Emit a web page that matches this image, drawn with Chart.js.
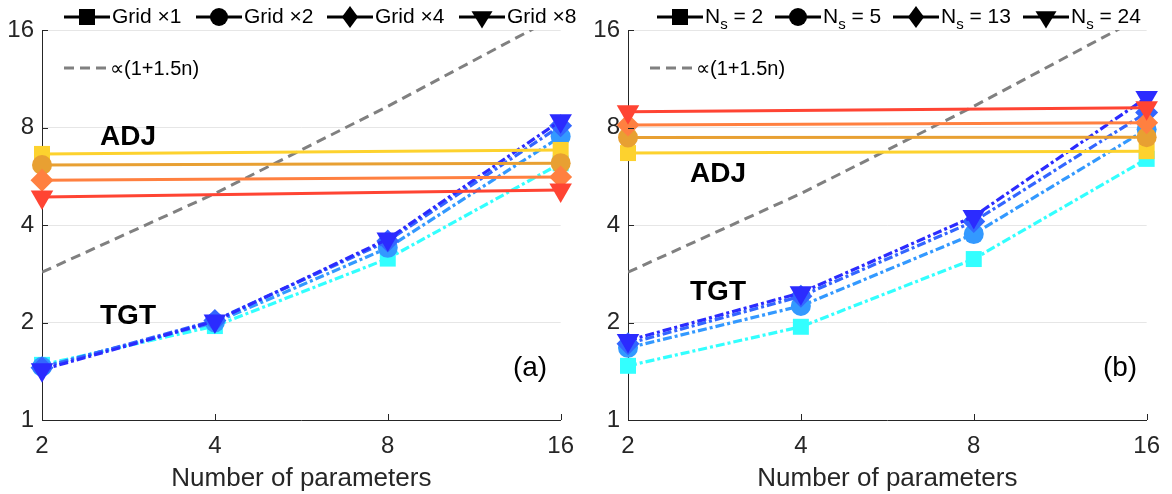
<!DOCTYPE html>
<html>
<head>
<meta charset="utf-8">
<script src="https://cdn.jsdelivr.net/npm/chart.js@4.4.0/dist/chart.umd.min.js"></script>
<style>
  html, body { margin: 0; padding: 0; background: #fff; }
  .panel { position: absolute; top: 0; width: 586px; height: 494px; }
</style>
</head>
<body>
<div class="panel" style="left:0"><canvas id="chartA" width="586" height="494"></canvas></div>
<div class="panel" style="left:586px"><canvas id="chartB" width="586" height="494"></canvas></div>
<script>
// x positions (number of parameters) and ticks
const params = [2, 4, 8, 16];
const adjParams = [2, 16];
const xTicks = [2, 4, 8, 16];
const yTicks = [1, 2, 4, 8, 16];

// reference curve  ∝(1+1.5n)
const refLine = [2.86, 5.0, 9.3, 17.9];

// panel (a): grid refinement
const labelsA = ['Grid \u00d71', 'Grid \u00d72', 'Grid \u00d74', 'Grid \u00d78'];
const tgtA1 = [1.48, 1.95, 3.15, 6.2];
const tgtA2 = [1.46, 2.0, 3.4, 7.5];
const tgtA4 = [1.45, 2.03, 3.57, 8.1];
const tgtA8 = [1.43, 2.02, 3.62, 8.4];
const adjA1 = [6.63, 6.82];
const adjA2 = [6.13, 6.21];
const adjA4 = [5.5, 5.63];
const adjA8 = [4.88, 5.13];

// panel (b): number of samples
const labelsB = ['2', '5', '13', '24'];
const tgtB2 = [1.47, 1.94, 3.14, 6.4];
const tgtB5 = [1.67, 2.25, 3.75, 7.9];
const tgtB13 = [1.72, 2.41, 4.1, 8.9];
const tgtB24 = [1.76, 2.47, 4.25, 9.9];
const adjB2 = [6.67, 6.76];
const adjB5 = [7.45, 7.47];
const adjB13 = [8.15, 8.27];
const adjB24 = [8.95, 9.2];

const tgtColors = ['#33FFFF', '#3399FF', '#3366FF', '#2B2BFF'];
const adjColors = ['#FDD22E', '#E8A032', '#FF8040', '#FF4433'];
const markers = [
  { style: 'rect', r: 11.3, rot: 0 },
  { style: 'circle', r: 10, rot: 0 },
  { style: 'rectRot', r: 11.5, rot: 0 },
  { style: 'triangle', r: 13, rot: 180 }
];

const SANS = "'Liberation Sans', Arial, sans-serif";
const AXIS = '#262626';

function buildDatasets(tgt, adj) {
  const ds = [{
    data: params.map((x, i) => ({ x: x, y: refLine[i] })),
    borderColor: '#808080', borderWidth: 3, borderDash: [10, 6],
    pointRadius: 0, order: 30
  }];
  tgt.forEach((vals, k) => ds.push({
    data: params.map((x, i) => ({ x: x, y: vals[i] })),
    borderColor: tgtColors[k], backgroundColor: tgtColors[k],
    borderWidth: 3.2, borderDash: [9, 3, 3, 3],
    pointStyle: markers[k].style, pointRadius: markers[k].r, pointRotation: markers[k].rot,
    pointBorderWidth: 0, clip: false, order: 20 - k
  }));
  adj.forEach((vals, k) => ds.push({
    data: adjParams.map((x, i) => ({ x: x, y: vals[i] })),
    borderColor: adjColors[k], backgroundColor: adjColors[k],
    borderWidth: 3,
    pointStyle: markers[k].style, pointRadius: markers[k].r, pointRotation: markers[k].rot,
    pointBorderWidth: 0, clip: false, order: 10 - k
  }));
  return ds;
}

function drawMarker(ctx, style, x, y, r) {
  ctx.beginPath();
  if (style === 'rect') {
    ctx.rect(x - r, y - r, 2 * r, 2 * r);
  } else if (style === 'circle') {
    ctx.arc(x, y, r, 0, Math.PI * 2);
  } else if (style === 'rectRot') {
    ctx.moveTo(x, y - r * 1.15); ctx.lineTo(x + r * 0.85, y);
    ctx.lineTo(x, y + r * 1.15); ctx.lineTo(x - r * 0.85, y);
    ctx.closePath();
  } else {
    ctx.moveTo(x - r, y - r * 0.55); ctx.lineTo(x + r, y - r * 0.55);
    ctx.lineTo(x, y + r * 1.1); ctx.closePath();
  }
  ctx.fill();
}

function overlay(opts) {
  return {
    id: 'overlay',
    afterDraw(chart) {
      const ctx = chart.ctx;
      const xs = chart.scales.x, ys = chart.scales.y;
      const area = chart.chartArea;
      ctx.save();
      // inward ticks
      ctx.strokeStyle = AXIS; ctx.lineWidth = 1;
      ctx.beginPath();
      yTicks.slice(1).forEach(v => {
        const py = Math.round(ys.getPixelForValue(v)) + 0.5;
        ctx.moveTo(area.left, py); ctx.lineTo(area.left + 6, py);
      });
      xTicks.slice(1).forEach(v => {
        const px = Math.round(xs.getPixelForValue(v)) + 0.5;
        ctx.moveTo(px, area.bottom); ctx.lineTo(px, area.bottom - 6);
      });
      ctx.stroke();

      // legend row
      ctx.textBaseline = 'middle';
      const ly = 17;
      opts.labels.forEach((lab, k) => {
        const mx = opts.legendX[k];
        ctx.strokeStyle = '#000'; ctx.lineWidth = 3; ctx.setLineDash([]);
        ctx.beginPath(); ctx.moveTo(mx - 23, ly); ctx.lineTo(mx + 23, ly); ctx.stroke();
        ctx.fillStyle = '#000';
        drawMarker(ctx, markers[k].style, mx, ly, [8, 9, 9.5, 10.5][k]);
        let cx = mx + 25;
        ctx.font = '21px ' + SANS;
        ctx.textAlign = 'left';
        if (opts.subscript) {
          ctx.fillText('N', cx, ly);
          cx += ctx.measureText('N').width;
          ctx.font = '15px ' + SANS;
          ctx.fillText('s', cx, ly + 8);
          cx += ctx.measureText('s').width;
          ctx.font = '21px ' + SANS;
          ctx.fillText(' = ' + lab, cx, ly);
        } else {
          ctx.fillText(lab, cx, ly);
        }
      });

      // reference-curve legend entry
      ctx.strokeStyle = '#808080'; ctx.lineWidth = 3; ctx.setLineDash([10, 6]);
      ctx.beginPath(); ctx.moveTo(64, 68); ctx.lineTo(108, 68); ctx.stroke();
      ctx.setLineDash([]);
      ctx.fillStyle = '#000';
      ctx.font = '20px ' + SANS;
      ctx.fillText('\u221d(1+1.5n)', 110, 69);

      // annotations
      ctx.font = 'bold 28px ' + SANS;
      ctx.fillText('ADJ', opts.adj[0], opts.adj[1]);
      ctx.fillText('TGT', opts.tgt[0], opts.tgt[1]);
      ctx.font = '28px ' + SANS;
      ctx.textAlign = 'center';
      ctx.fillText(opts.tag, opts.tagPos[0], opts.tagPos[1]);
      ctx.restore();
    }
  };
}

function makeChart(id, datasets, rightPad, opts) {
  new Chart(document.getElementById(id), {
    type: 'line',
    data: { datasets: datasets },
    options: {
      responsive: false,
      animation: false,
      layout: { padding: { left: 0, right: rightPad, top: 30, bottom: 0 } },
      plugins: { legend: { display: false }, tooltip: { enabled: false } },
      scales: {
        x: {
          type: 'logarithmic', min: 2, max: 16,
          afterBuildTicks: s => { s.ticks = xTicks.map(v => ({ value: v })); },
          afterFit: s => { s.height = 74; },
          grid: { drawOnChartArea: false, drawTicks: false },
          border: { color: AXIS, width: 1 },
          ticks: { color: AXIS, padding: 12, font: { size: 24, family: SANS }, callback: v => String(v), maxRotation: 0 },
          title: { display: true, text: 'Number of parameters', color: AXIS, font: { family: SANS, size: 26 }, padding: { top: 2, bottom: 0 } }
        },
        y: {
          type: 'logarithmic', min: 1, max: 16,
          afterBuildTicks: s => { s.ticks = yTicks.map(v => ({ value: v })); },
          afterFit: s => { s.width = 42; },
          grid: { color: '#E6E6E6', drawTicks: false },
          border: { color: AXIS, width: 1 },
          ticks: { color: AXIS, padding: 8, font: { size: 24, family: SANS }, callback: v => String(v) }
        }
      }
    },
    plugins: [overlay(opts)]
  });
}

makeChart('chartA', buildDatasets([tgtA1, tgtA2, tgtA4, tgtA8], [adjA1, adjA2, adjA4, adjA8]), 23, {
  labels: labelsA, subscript: false, legendX: [87, 219, 350, 482],
  adj: [100, 137], tgt: [100, 316], tag: '(a)', tagPos: [530, 368]
});
makeChart('chartB', buildDatasets([tgtB2, tgtB5, tgtB13, tgtB24], [adjB2, adjB5, adjB13, adjB24]), 19, {
  labels: labelsB, subscript: true, legendX: [94, 212, 330, 460],
  adj: [104, 174], tgt: [104, 292], tag: '(b)', tagPos: [534, 368]
});
</script>
</body>
</html>
